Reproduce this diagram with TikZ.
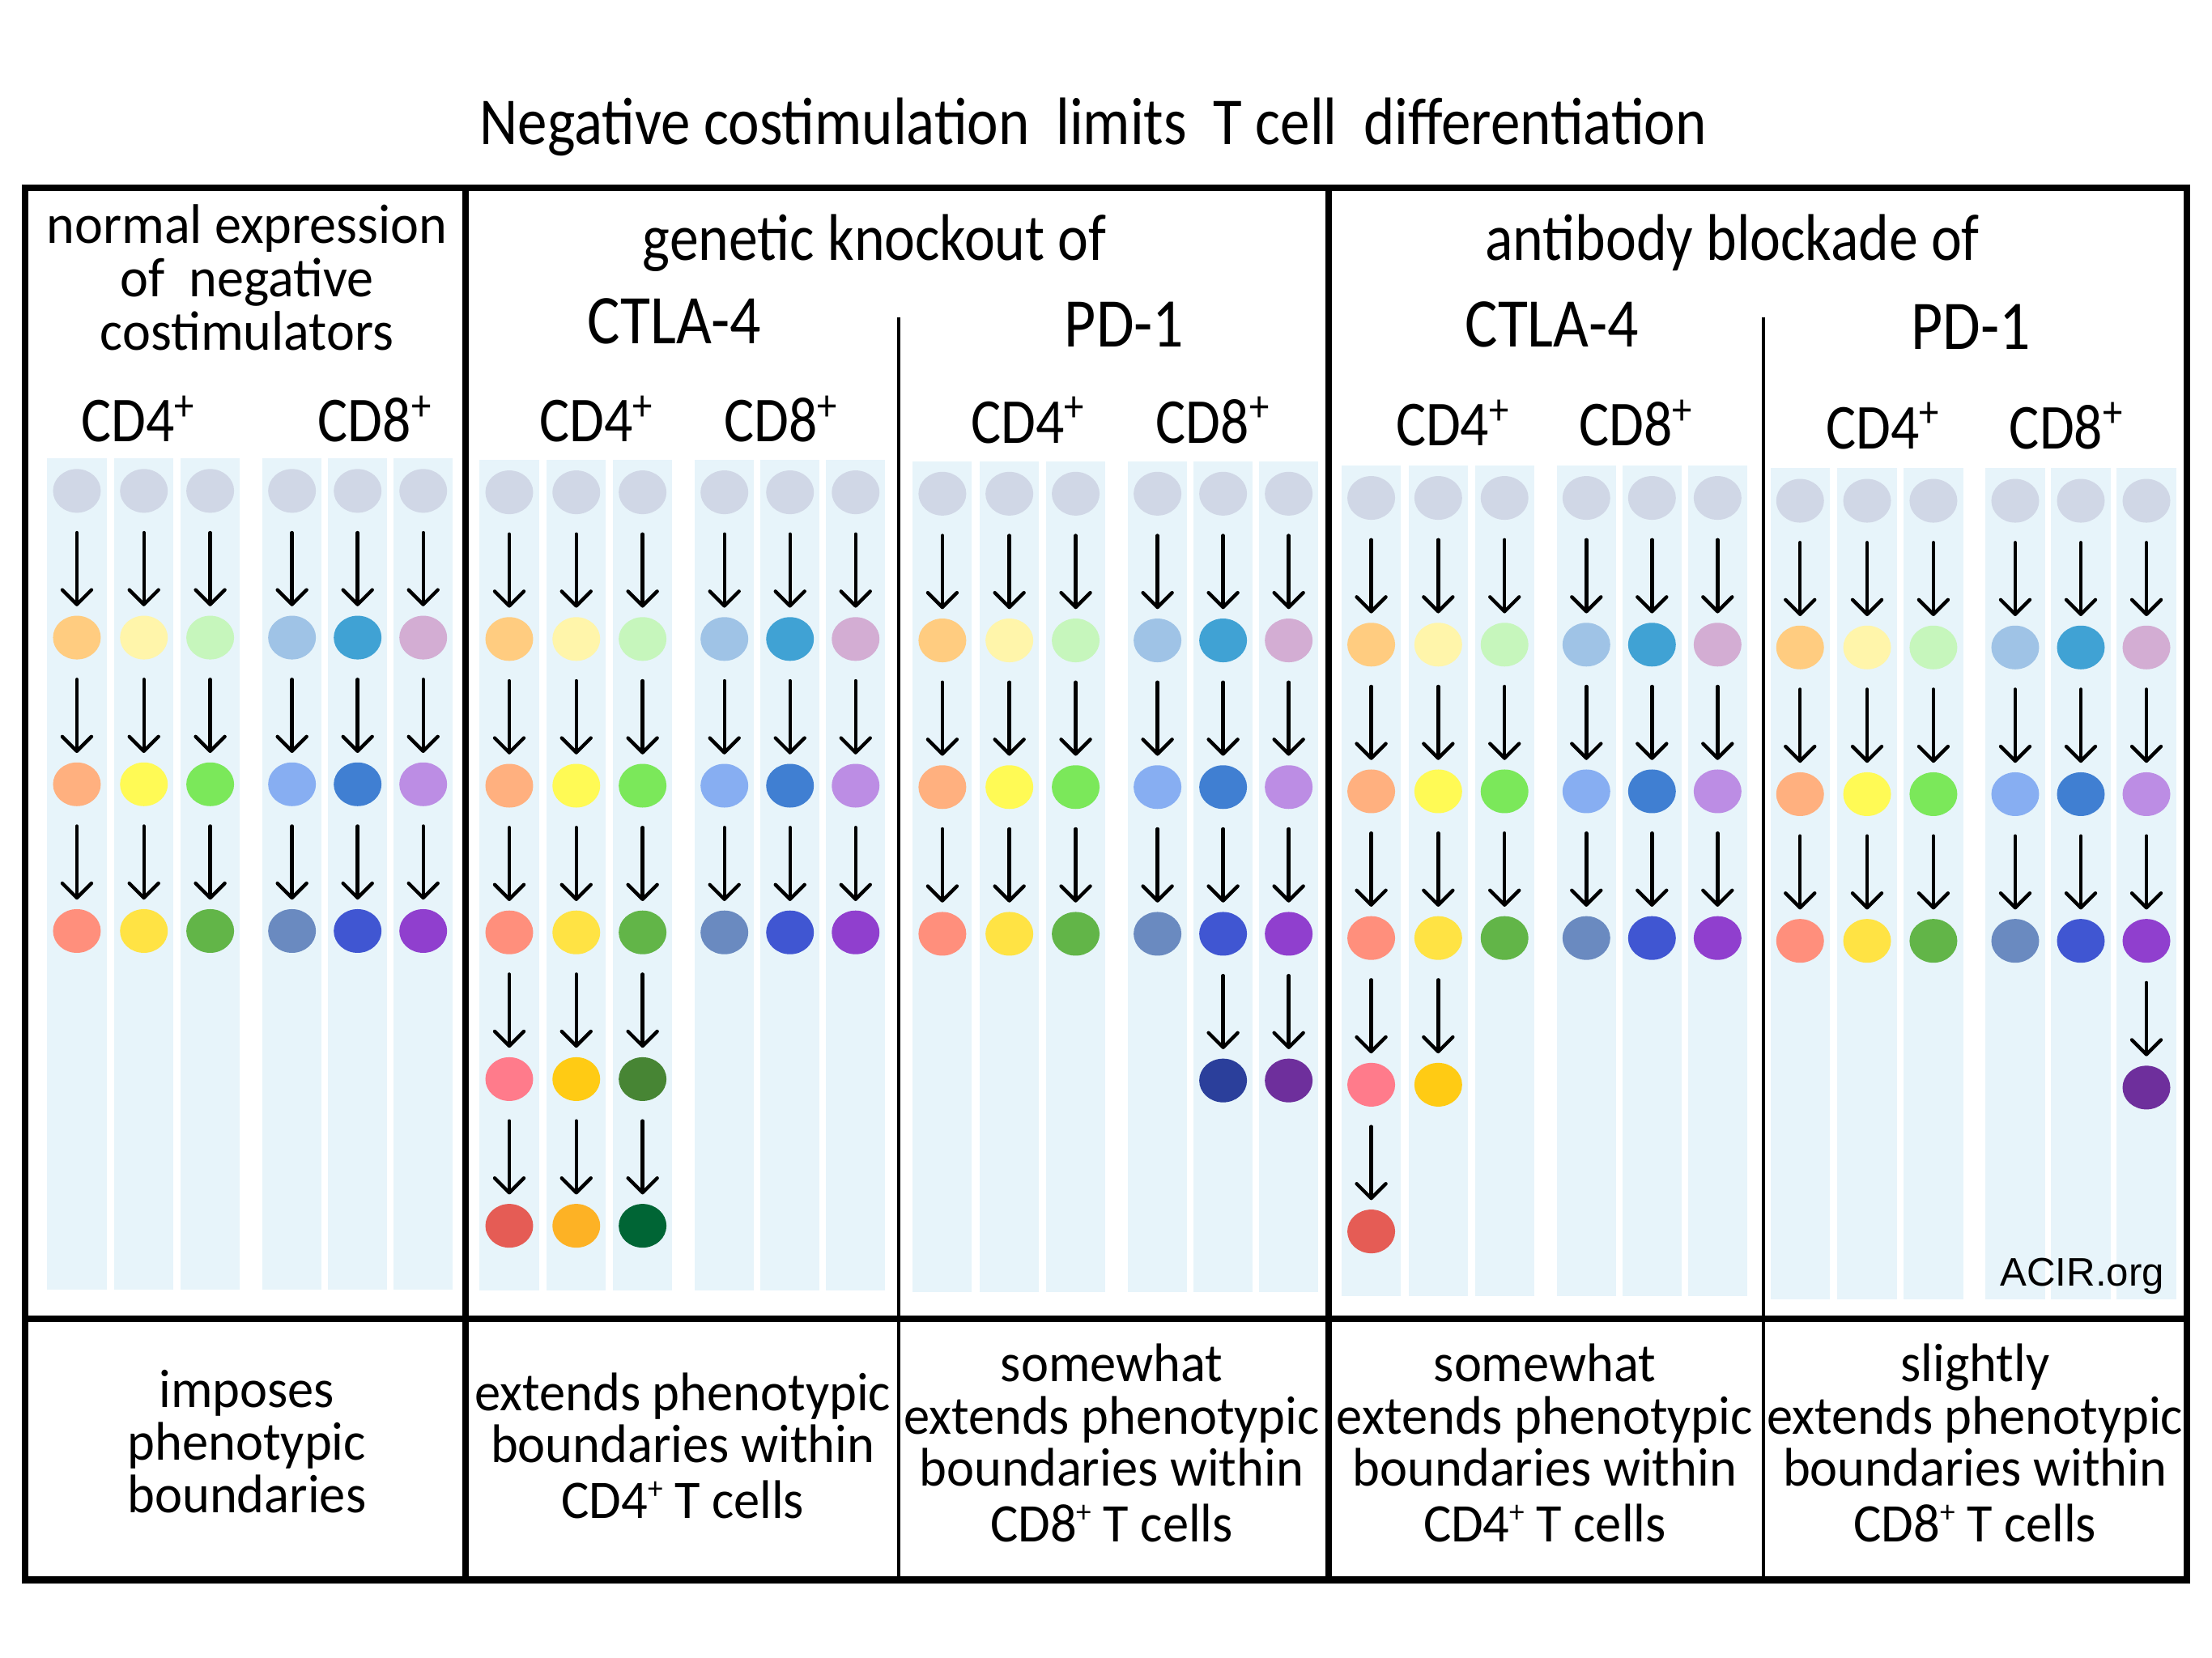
\documentclass[tikz,border=0pt]{standalone}
\usepackage{fontspec}
\setmainfont{Carlito}[FakeStretch=0.88]
\newfontfamily\widehand{Carlito}[FakeStretch=0.96]
\newfontfamily\acirfont{Liberation Sans}
\usepackage{xcolor}
\usetikzlibrary{shapes.geometric,arrows.meta}
\definecolor{lanebg}{HTML}{E7F4FA}
\definecolor{naive}{HTML}{D0D7E6}
\definecolor{or1}{HTML}{FFCC80}
\definecolor{or2}{HTML}{FFB07F}
\definecolor{or3}{HTML}{FF8F7C}
\definecolor{or4}{HTML}{FF7B8B}
\definecolor{or5}{HTML}{E55C55}
\definecolor{ye1}{HTML}{FFF5AA}
\definecolor{ye2}{HTML}{FFFA55}
\definecolor{ye3}{HTML}{FFE344}
\definecolor{ye4}{HTML}{FFCB14}
\definecolor{ye5}{HTML}{FDB225}
\definecolor{gr1}{HTML}{C6F6BC}
\definecolor{gr2}{HTML}{7BE85A}
\definecolor{gr3}{HTML}{62B548}
\definecolor{gr4}{HTML}{478534}
\definecolor{gr5}{HTML}{006535}
\definecolor{lb1}{HTML}{9FC3E6}
\definecolor{lb2}{HTML}{87AEF2}
\definecolor{lb3}{HTML}{6A8AC0}
\definecolor{bl1}{HTML}{40A2D4}
\definecolor{bl2}{HTML}{407FD2}
\definecolor{bl3}{HTML}{4056D2}
\definecolor{bl4}{HTML}{2B3F9B}
\definecolor{pu1}{HTML}{D3ADD3}
\definecolor{pu2}{HTML}{BC8DE4}
\definecolor{pu3}{HTML}{903FCE}
\definecolor{pu4}{HTML}{6E2F9C}

\tikzset{
	cell/.style={ellipse, draw=none, inner sep=0pt, minimum width=5.9mm, minimum height=5.4mm},
	diffarrow/.style={->, line width=1.25pt, line cap=round, shorten <=2.4mm, shorten >=1.1mm},
	txt/.style={font=\widehand\fontsize{19.1}{18.4}\selectfont, align=center, inner sep=0pt},
	headtxt/.style={font=\widehand\fontsize{19.6}{18.8}\selectfont, align=center, inner sep=0pt},
	grouptxt/.style={font=\fontsize{23.2}{20}\selectfont, inner sep=0pt},
	target/.style={font=\fontsize{24.5}{22}\selectfont, inner sep=0pt},
	subset/.style={font=\fontsize{22.5}{20}\selectfont, inner sep=0pt},
	frame/.style={line width=2.3pt},
	thinframe/.style={line width=1.2pt}
}

% small raised plus for the lines of the bottom row
\newcommand{\tplus}{\raisebox{0.75ex}{\fontsize{11}{11}\selectfont +}}

% one lane: name, x, panel shift, colours from top to bottom
\newcommand{\celllane}[4]{%
	\fill[lanebg] ({#2-21},{325+#3}) rectangle ({#2+21},{914+#3});
	\foreach \col [count=\k from 0] in {#4} {
		\node	(#1-\k) at ({#2},{348+#3+104*\k}) [cell, fill=\col] {};
		\ifnum\k>0
			\pgfmathtruncatemacro{\j}{\k-1}
			\draw (#1-\j) edge[diffarrow] (#1-\k);
		\fi
	}
}

\begin{document}
\begin{tikzpicture}[x=0.174235mm, y=-0.174235mm, >={Straight Barb[length=1.8mm,width=3.6mm,round]}]
	\fill[white] (0,0) rectangle (1568,1175.4);
	\useasboundingbox (0,0) rectangle (1568,1175.4);

	\node	(title) at (775,90) [grouptxt, font=\fontsize{23.6}{20}\selectfont] {Negative costimulation\ \ limits\ \ T cell\ \ differentiation};

	\node	(normal) at (175,197) [headtxt] {normal expression\\of\ \ negative\\costimulators};
	\node	(ko) at (620,172) [grouptxt] {genetic knockout of};
	\node	(koctla) at (478,228) [target] {CTLA-4};
	\node	(kopd) at (797,230) [target] {PD-1};
	\node	(ab) at (1228,172) [grouptxt] {antibody blockade of};
	\node	(abctla) at (1100,230) [target] {CTLA-4};
	\node	(abpd) at (1397,232) [target] {PD-1};

	\node	(n4) at (98,297) [subset] {CD4\textsuperscript{+}};
	\node	(n8) at (266,297) [subset] {CD8\textsuperscript{+}};
	\node	(kc4) at (423,297) [subset] {CD4\textsuperscript{+}};
	\node	(kc8) at (554,297) [subset] {CD8\textsuperscript{+}};
	\node	(kp4) at (729,298) [subset] {CD4\textsuperscript{+}};
	\node	(kp8) at (860,298) [subset] {CD8\textsuperscript{+}};
	\node	(ac4) at (1030,300) [subset] {CD4\textsuperscript{+}};
	\node	(ac8) at (1160,300) [subset] {CD8\textsuperscript{+}};
	\node	(ap4) at (1335,302) [subset] {CD4\textsuperscript{+}};
	\node	(ap8) at (1465,302) [subset] {CD8\textsuperscript{+}};

	\celllane{n1}{54.5}{0}{naive,or1,or2,or3}
	\celllane{n2}{102}{0}{naive,ye1,ye2,ye3}
	\celllane{n3}{149}{0}{naive,gr1,gr2,gr3}
	\celllane{n5}{207}{0}{naive,lb1,lb2,lb3}
	\celllane{n6}{253.5}{0}{naive,bl1,bl2,bl3}
	\celllane{n7}{300}{0}{naive,pu1,pu2,pu3}

	\celllane{kc1}{361}{1}{naive,or1,or2,or3,or4,or5}
	\celllane{kc2}{408.5}{1}{naive,ye1,ye2,ye3,ye4,ye5}
	\celllane{kc3}{455.5}{1}{naive,gr1,gr2,gr3,gr4,gr5}
	\celllane{kc5}{513.5}{1}{naive,lb1,lb2,lb3}
	\celllane{kc6}{560}{1}{naive,bl1,bl2,bl3}
	\celllane{kc7}{606.5}{1}{naive,pu1,pu2,pu3}

	\celllane{kp1}{668}{2}{naive,or1,or2,or3}
	\celllane{kp2}{715.5}{2}{naive,ye1,ye2,ye3}
	\celllane{kp3}{762.5}{2}{naive,gr1,gr2,gr3}
	\celllane{kp5}{820.5}{2}{naive,lb1,lb2,lb3}
	\celllane{kp6}{867}{2}{naive,bl1,bl2,bl3,bl4}
	\celllane{kp7}{913.5}{2}{naive,pu1,pu2,pu3,pu4}

	\celllane{ac1}{972}{5}{naive,or1,or2,or3,or4,or5}
	\celllane{ac2}{1019.5}{5}{naive,ye1,ye2,ye3,ye4}
	\celllane{ac3}{1066.5}{5}{naive,gr1,gr2,gr3}
	\celllane{ac5}{1124.5}{5}{naive,lb1,lb2,lb3}
	\celllane{ac6}{1171}{5}{naive,bl1,bl2,bl3}
	\celllane{ac7}{1217.5}{5}{naive,pu1,pu2,pu3}

	\celllane{ap1}{1276}{7}{naive,or1,or2,or3}
	\celllane{ap2}{1323.5}{7}{naive,ye1,ye2,ye3}
	\celllane{ap3}{1370.5}{7}{naive,gr1,gr2,gr3}
	\celllane{ap5}{1428.5}{7}{naive,lb1,lb2,lb3}
	\celllane{ap6}{1475}{7}{naive,bl1,bl2,bl3}
	\celllane{ap7}{1521.5}{7}{naive,pu1,pu2,pu3,pu4}

	\node	(acir) at (1476,905) [font=\acirfont\fontsize{14}{16}\selectfont, inner sep=0pt] {ACIR.org};

	\draw[frame] (18,133) rectangle (1550,1120);
	\draw[frame] (18,935) -- (1550,935);
	\draw[frame] (330,133) -- (330,1120);
	\draw[frame] (942,133) -- (942,1120);
	\draw[thinframe] (637,225) -- (637,1120);
	\draw[thinframe] (1250,225) -- (1250,1120);

	\node	(r1) at (175,1022) [txt] {imposes\\phenotypic\\boundaries};
	\node	(r2) at (484,1025) [txt] {extends phenotypic\\boundaries within\\[1.2pt]CD4\tplus\ T\ cells};
	\node	(r3) at (788,1023) [txt] {somewhat\\extends phenotypic\\boundaries within\\[1.2pt]CD8\tplus\ T\ cells};
	\node	(r4) at (1095,1023) [txt] {somewhat\\extends phenotypic\\boundaries within\\[1.2pt]CD4\tplus\ T\ cells};
	\node	(r5) at (1400,1023) [txt] {slightly\\extends phenotypic\\boundaries within\\[1.2pt]CD8\tplus\ T\ cells};
\end{tikzpicture}
\end{document}
